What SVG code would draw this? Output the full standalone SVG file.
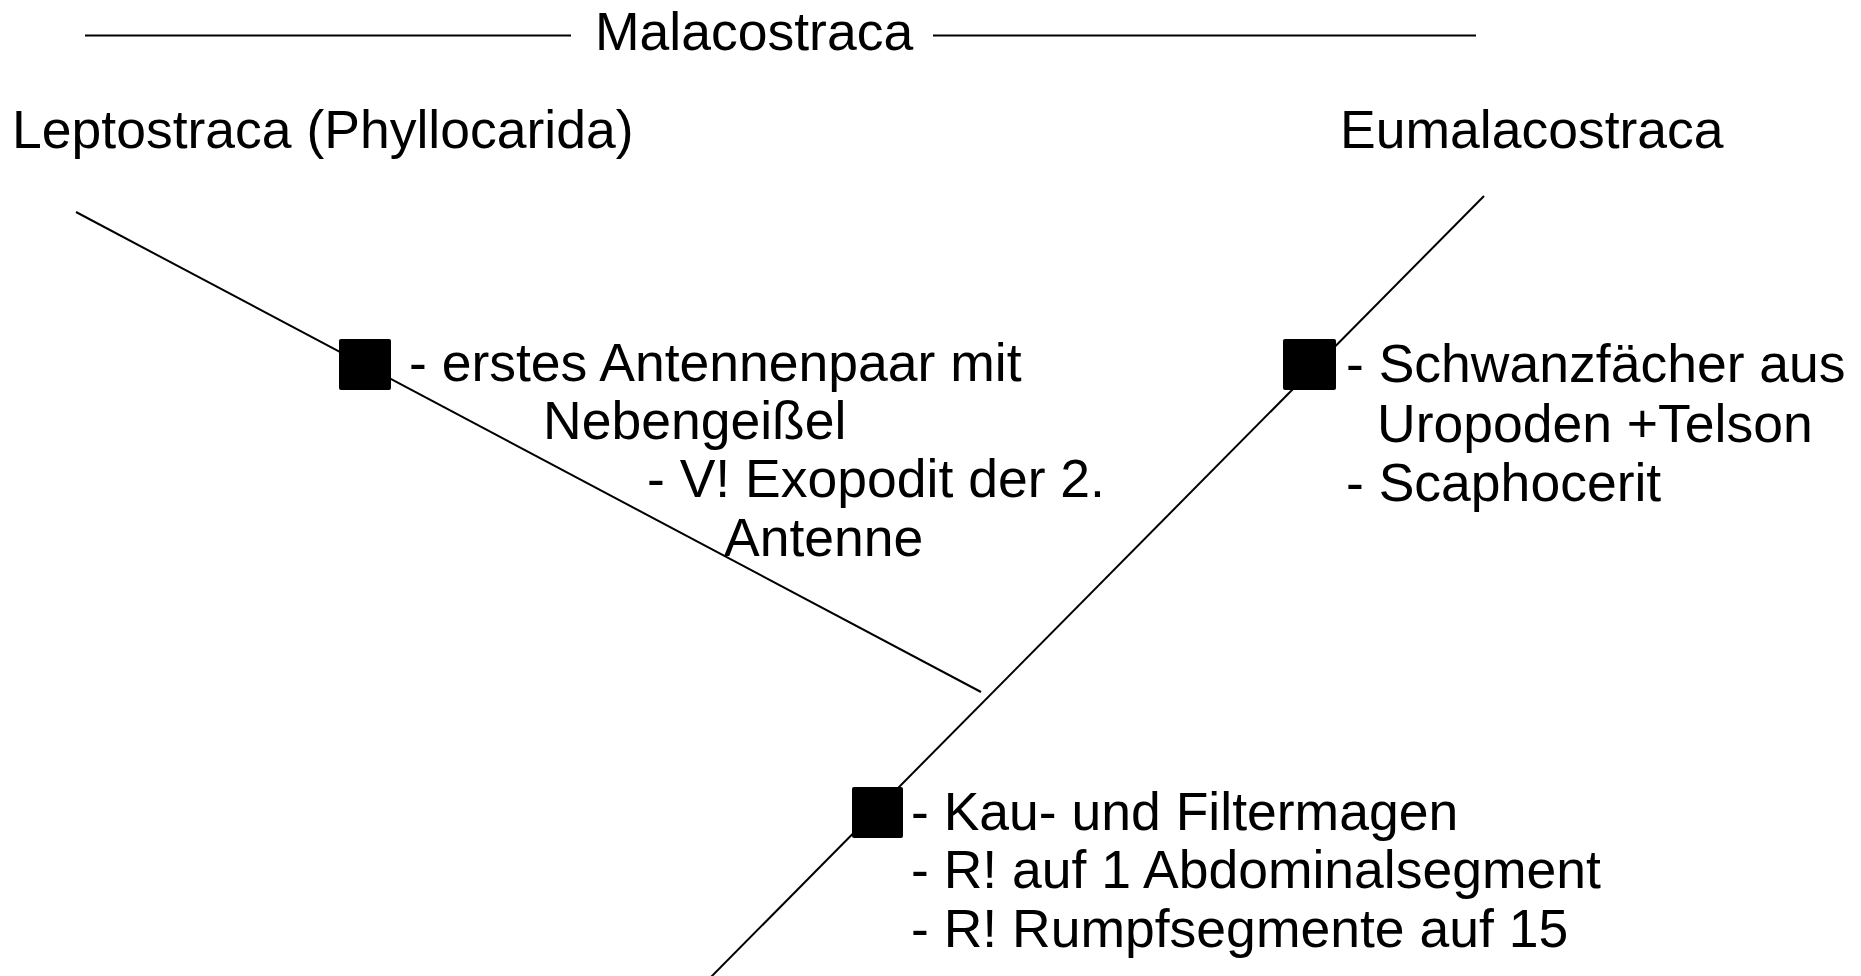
<svg xmlns="http://www.w3.org/2000/svg" width="1861" height="976" viewBox="0 0 1861 976">
  <style>
    .lbl { font-family: "Liberation Sans", Arial, sans-serif; font-size: 53.5px; fill: #000; }
    .edge { stroke: #000; stroke-width: 2; fill: none; }
    .mark { fill: #000; }
  </style>
  <rect width="1861" height="976" fill="#fff"/>

  <!-- title bar -->
  <g id="title">
    <line class="edge" x1="85" y1="35.5" x2="571" y2="35.5"/>
    <line class="edge" x1="933" y1="35.5" x2="1476" y2="35.5"/>
    <text class="lbl" x="595" y="50">Malacostraca</text>
  </g>

  <!-- branches -->
  <g id="connectors">
    <line class="edge" x1="76" y1="212" x2="981" y2="692"/>
    <line class="edge" x1="1484" y1="196" x2="710" y2="978"/>
  </g>

  <!-- taxa -->
  <g id="leptostraca">
    <text class="lbl" x="12" y="148">Leptostraca (Phyllocarida)</text>
  </g>
  <g id="eumalacostraca">
    <text class="lbl" x="1340" y="148">Eumalacostraca</text>
  </g>

  <!-- apomorphy marks with character lists -->
  <g id="node-leptostraca">
    <rect class="mark" x="339" y="339" width="52" height="51" rx="2"/>
    <text class="lbl" x="409" y="381">- erstes Antennenpaar mit</text>
    <text class="lbl" x="543" y="439">Nebengeißel</text>
    <text class="lbl" x="647" y="497">- V! Exopodit der 2.</text>
    <text class="lbl" x="724" y="556">Antenne</text>
  </g>

  <g id="node-eumalacostraca">
    <rect class="mark" x="1283" y="339" width="53" height="51" rx="2"/>
    <text class="lbl" x="1346" y="382">- Schwanzfächer aus</text>
    <text class="lbl" x="1377" y="442">Uropoden +Telson</text>
    <text class="lbl" x="1346" y="501">- Scaphocerit</text>
  </g>

  <g id="node-malacostraca">
    <rect class="mark" x="852" y="787" width="51" height="51" rx="2"/>
    <text class="lbl" x="911" y="830">- Kau- und Filtermagen</text>
    <text class="lbl" x="911" y="888">- R! auf 1 Abdominalsegment</text>
    <text class="lbl" x="911" y="947">- R! Rumpfsegmente auf 15</text>
  </g>
</svg>
